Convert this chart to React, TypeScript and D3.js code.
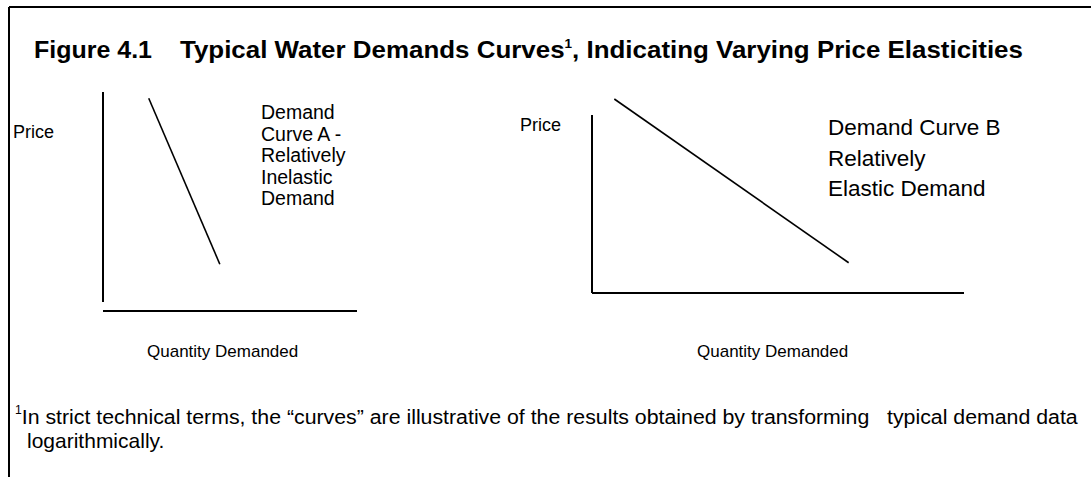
import React from 'react';
import { scaleLinear, line } from 'd3';

interface Pt {
  q: number;
  p: number;
}

// curve endpoints, in axis units (0-10)
const curveA: Pt[] = [
  { q: 1.8, p: 9.7 },
  { q: 4.6, p: 1.8 },
];
const curveB: Pt[] = [
  { q: 0.6, p: 10.9 },
  { q: 6.9, p: 1.7 },
];

const labelA = ['Demand', 'Curve A -', 'Relatively', 'Inelastic', 'Demand'];
const labelB = ['Demand Curve B', 'Relatively', 'Elastic Demand'];
const axisTitles = { x: 'Quantity Demanded', y: 'Price' };

const FONT = "'Liberation Sans', Arial, Helvetica, sans-serif";

const W = 1091;
const H = 477;

interface PanelProps {
  data: Pt[];
  xRange: [number, number];
  yRange: [number, number];
  xAxisY: number;
  priceX: number;
  priceY: number;
  qtyX: number;
  qtyY: number;
  label: string[];
  labelX: number;
  labelY: number;
  labelSize: number;
  labelStep: number;
}

const Panel: React.FC<PanelProps> = (props) => {
  const x = scaleLinear().domain([0, 10]).range(props.xRange);
  const y = scaleLinear().domain([0, 10]).range(props.yRange);
  const path = line<Pt>()
    .x((d) => x(d.q))
    .y((d) => y(d.p));

  return (
    <g>
      <line x1={x(0)} x2={x(0)} y1={y(0)} y2={y(10)} stroke="#000" strokeWidth={2} />
      <line x1={x(0)} x2={x(10)} y1={props.xAxisY} y2={props.xAxisY} stroke="#000" strokeWidth={2} />
      <path d={path(props.data) || ''} fill="none" stroke="#000" strokeWidth={1.6} />

      <text x={props.priceX} y={props.priceY} fontSize={18}>
        {axisTitles.y}
      </text>
      <text x={props.qtyX} y={props.qtyY} fontSize={17}>
        {axisTitles.x}
      </text>
      {props.label.map((s, i) => (
        <text key={i} x={props.labelX} y={props.labelY + i * props.labelStep} fontSize={props.labelSize}>
          {s}
        </text>
      ))}
    </g>
  );
};

export default function App() {
  return (
    <svg
      width={W}
      height={H}
      style={{ position: 'absolute', left: 0, top: 0, background: '#fff' }}
      fontFamily={FONT}
      fill="#000"
    >
      {/* frame: top and left only */}
      <line x1={9} x2={W} y1={7} y2={7} stroke="#000" strokeWidth={2} />
      <line x1={9} x2={9} y1={7} y2={H} stroke="#000" strokeWidth={2} />

      <text x={34} y={58} fontSize={23} fontWeight="bold" textLength={118} lengthAdjust="spacingAndGlyphs">
        Figure 4.1
      </text>
      <g transform="translate(180,58) scale(1.127,1)">
        <text x={0} y={0} fontSize={23} fontWeight="bold">
          Typical Water Demands Curves
          <tspan fontSize={12} dy={-10}>1</tspan>
          <tspan dy={10}>, Indicating Varying Price Elasticities</tspan>
        </text>
      </g>

      <Panel
        data={curveA}
        xRange={[103, 357]}
        yRange={[302, 92]}
        xAxisY={311}
        priceX={13}
        priceY={138}
        qtyX={147}
        qtyY={357}
        label={labelA}
        labelX={261}
        labelY={119}
        labelSize={19.5}
        labelStep={21.5}
      />
      <Panel
        data={curveB}
        xRange={[592, 964]}
        yRange={[293, 115]}
        xAxisY={293}
        priceX={520}
        priceY={131}
        qtyX={697}
        qtyY={357}
        label={labelB}
        labelX={828}
        labelY={135}
        labelSize={22.5}
        labelStep={30.5}
      />

      <g transform="translate(15,424) scale(1.015,1)">
        <text x={0} y={0} fontSize={21}>
          <tspan fontSize={12} dy={-10}>1</tspan>
          <tspan dy={10}>
            {'In strict technical terms, the \u201Ccurves\u201D are illustrative of the results obtained by transforming \u00A0\u00A0typical demand data'}
          </tspan>
        </text>
      </g>
      <text x={27} y={448} fontSize={21}>
        logarithmically.
      </text>
    </svg>
  );
}
